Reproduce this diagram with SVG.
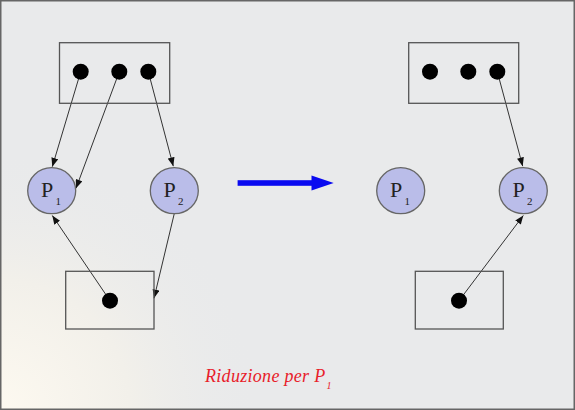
<svg xmlns="http://www.w3.org/2000/svg" width="575" height="410" viewBox="0 0 575 410">
<defs>
<radialGradient id="bgGlow" cx="0" cy="410" r="260" gradientUnits="userSpaceOnUse">
<stop offset="0" stop-color="#fdf9f0"/>
<stop offset="0.5" stop-color="#f2f0ea"/>
<stop offset="1" stop-color="#e9eaeb" stop-opacity="0"/>
</radialGradient>
<marker id="ah" viewBox="0 0 10 8" refX="10" refY="4" markerWidth="9" markerHeight="7" markerUnits="userSpaceOnUse" orient="auto">
<path d="M0,0 L10,4 L0,8 Z" fill="#111"/>
</marker>
<style>
.box{fill:none;stroke:#555;stroke-width:1.3}
.dot{fill:#000}
.proc{fill:#babde9;stroke:#666;stroke-width:1.3}
.pl{font-family:"Liberation Serif","Times New Roman",serif;font-size:22px;fill:#222}
.sub{font-family:"Liberation Serif","Times New Roman",serif;font-size:11px;fill:#222}
.edge{stroke:#333;stroke-width:1;fill:none;marker-end:url(#ah)}
.cap{font-family:"Liberation Serif","Times New Roman",serif;font-style:italic;font-size:18px;letter-spacing:0.3px;fill:#e8202a}
</style>
</defs>
<rect x="0" y="0" width="575" height="410" fill="#e9eaeb"/>
<rect x="0" y="0" width="575" height="410" fill="url(#bgGlow)"/>
<rect x="0.75" y="0.75" width="573.5" height="408.5" fill="none" stroke="#666" stroke-width="1.5"/>

<g id="connectors">
<line class="edge" x1="80.7" y1="71.7" x2="52.3" y2="166.7"/>
<line class="edge" x1="119.3" y1="71.7" x2="76" y2="188.3"/>
<line class="edge" x1="148.3" y1="71.7" x2="173.3" y2="166.2"/>
<line class="edge" x1="110" y1="300.7" x2="52.3" y2="215.5"/>
<line class="edge" x1="174.3" y1="213.5" x2="154" y2="298.3"/>
<line class="edge" x1="497.3" y1="71.7" x2="522.7" y2="166.2"/>
<line class="edge" x1="459" y1="300.7" x2="523.3" y2="215.5"/>
</g>

<g id="left-resource-top">
<rect class="box" x="59.5" y="42.7" width="110.2" height="60.6"/>
<circle class="dot" cx="80.7" cy="71.7" r="8"/>
<circle class="dot" cx="119.3" cy="71.7" r="8"/>
<circle class="dot" cx="148.3" cy="71.7" r="8"/>
</g>
<g id="left-P1">
<ellipse class="proc" cx="51.7" cy="190.7" rx="24" ry="23"/>
<text class="pl" x="41" y="196.7">P</text><text class="sub" x="55.5" y="205">1</text>
</g>
<g id="left-P2">
<ellipse class="proc" cx="174.3" cy="190.7" rx="24" ry="23"/>
<text class="pl" x="163.6" y="196.7">P</text><text class="sub" x="178.1" y="205">2</text>
</g>
<g id="left-resource-bottom">
<rect class="box" x="65.7" y="271.3" width="88.3" height="57.7"/>
<circle class="dot" cx="110" cy="300.7" r="8"/>
</g>

<g id="transform-arrow">
<rect x="237.6" y="180.2" width="75" height="5.6" fill="#0a0af0"/>
<path d="M311.5,175.6 L333.7,183 L311.5,190.4 Z" fill="#0a0af0"/>
</g>

<g id="right-resource-top">
<rect class="box" x="408.7" y="42.7" width="110" height="60.6"/>
<circle class="dot" cx="430" cy="71.7" r="8"/>
<circle class="dot" cx="468.3" cy="71.7" r="8"/>
<circle class="dot" cx="497.3" cy="71.7" r="8"/>
</g>
<g id="right-P1">
<ellipse class="proc" cx="400.7" cy="190.7" rx="24" ry="23"/>
<text class="pl" x="390" y="196.7">P</text><text class="sub" x="404.5" y="205">1</text>
</g>
<g id="right-P2">
<ellipse class="proc" cx="523.3" cy="190.7" rx="24" ry="23"/>
<text class="pl" x="512.6" y="196.7">P</text><text class="sub" x="527.1" y="205">2</text>
</g>
<g id="right-resource-bottom">
<rect class="box" x="415.3" y="271.3" width="88" height="57.7"/>
<circle class="dot" cx="459" cy="300.7" r="8"/>
</g>

<g id="caption">
<text class="cap" x="205" y="382">Riduzione per P<tspan font-size="10" dx="1" dy="7">1</tspan></text>
</g>
</svg>
